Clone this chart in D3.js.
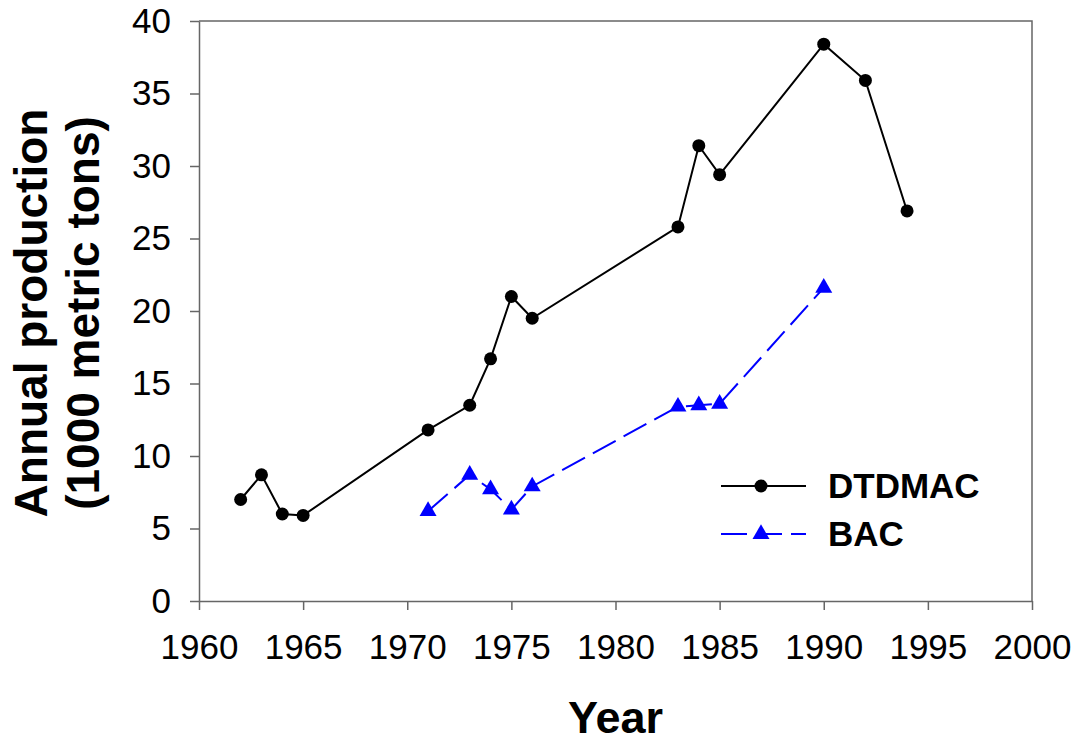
<!DOCTYPE html>
<html>
<head>
<meta charset="utf-8">
<script src="https://cdn.jsdelivr.net/npm/d3@7"></script>
<style>
  html, body { margin: 0; padding: 0; background: #fff; }
  svg { display: block; font-family: "Liberation Sans", Arial, Helvetica, sans-serif; }
</style>
</head>
<body>
<svg id="chart" width="1080" height="743"></svg>
<script>
// Annual production of two surfactants (1000 metric tons)
const dtdmacYears  = [1962, 1963, 1964, 1965, 1971, 1973, 1974, 1975, 1976, 1983, 1984, 1985, 1990, 1992, 1994];
const dtdmacValues = [7.0, 8.7, 6.0, 5.9, 11.8, 13.5, 16.7, 21.0, 19.5, 25.8, 31.4, 29.4, 38.4, 35.9, 26.9];

const bacYears  = [1971, 1973, 1974, 1975, 1976, 1983, 1984, 1985, 1990];
const bacValues = [6.2, 8.7, 7.7, 6.3, 7.9, 13.4, 13.5, 13.6, 21.6];

const xTicks = [1960, 1965, 1970, 1975, 1980, 1985, 1990, 1995, 2000];
const yTicks = [0, 5, 10, 15, 20, 25, 30, 35, 40];

const seriesNames = ["DTDMAC", "BAC"];

const svg = d3.select("#chart");
const margin = { left: 199, right: 1032, top: 21, bottom: 601 };

const x = d3.scaleLinear().domain([1960, 2000]).range([margin.left, margin.right]);
const y = d3.scaleLinear().domain([0, 40]).range([margin.bottom, margin.top]);

const axisColor = "#666";

// frame (top and right edges)
svg.append("path")
  .attr("d", `M${margin.left},${margin.top}H${margin.right}V${margin.bottom}`)
  .attr("fill", "none").attr("stroke", axisColor).attr("stroke-width", 1.5);

// x axis
const gx = svg.append("g")
  .attr("transform", `translate(0,${margin.bottom})`)
  .call(d3.axisBottom(x).tickValues(xTicks).tickFormat(d3.format("d")).tickSize(9).tickPadding(24).tickSizeOuter(0));
gx.select(".domain").attr("stroke", axisColor).attr("stroke-width", 1.5);
gx.selectAll(".tick line").attr("stroke", axisColor).attr("stroke-width", 1.5);
gx.selectAll(".tick text").attr("font-size", 35).attr("fill", "#000").attr("font-family", null);

// y axis
const gy = svg.append("g")
  .attr("transform", `translate(${margin.left},0)`)
  .call(d3.axisLeft(y).tickValues(yTicks).tickSize(9).tickPadding(19).tickSizeOuter(0));
gy.select(".domain").attr("stroke", axisColor).attr("stroke-width", 1.5);
gy.selectAll(".tick line").attr("stroke", axisColor).attr("stroke-width", 1.5);
gy.selectAll(".tick text").attr("font-size", 35).attr("fill", "#000").attr("font-family", null);

// axis titles
svg.append("text")
  .attr("x", (margin.left + margin.right) / 2).attr("y", 733)
  .attr("text-anchor", "middle").attr("font-size", 45).attr("font-weight", "bold")
  .text("Year");

const yTitle = svg.append("text")
  .attr("transform", `translate(0,${(margin.top + margin.bottom) / 2 + 2}) rotate(-90)`)
  .attr("text-anchor", "middle").attr("font-size", 46).attr("font-weight", "bold");
yTitle.append("tspan").attr("x", 0).attr("y", 47).text("Annual production");
yTitle.append("tspan").attr("x", 0).attr("y", 99).text("(1000 metric tons)");

// series
const dtdmac = dtdmacYears.map((yr, i) => ({ yr, v: dtdmacValues[i] }));
const bac = bacYears.map((yr, i) => ({ yr, v: bacValues[i] }));

const line = d3.line().x(d => x(d.yr)).y(d => y(d.v));
const triangle = d3.symbol().type(d3.symbolTriangle).size(125);

svg.append("path").datum(bac)
  .attr("d", line).attr("fill", "none").attr("stroke", "#0000ff")
  .attr("stroke-width", 2).attr("stroke-dasharray", "26,9");
svg.append("g").selectAll("path").data(bac).join("path")
  .attr("d", triangle)
  .attr("transform", d => `translate(${x(d.yr)},${y(d.v)})`)
  .attr("fill", "#0000ff");

svg.append("path").datum(dtdmac)
  .attr("d", line).attr("fill", "none").attr("stroke", "#000").attr("stroke-width", 2);
svg.append("g").selectAll("circle").data(dtdmac).join("circle")
  .attr("cx", d => x(d.yr)).attr("cy", d => y(d.v)).attr("r", 6.5).attr("fill", "#000");

// legend
const legend = svg.append("g");
const legRows = [486, 534];
legend.append("line").attr("x1", 721).attr("x2", 806).attr("y1", legRows[0]).attr("y2", legRows[0])
  .attr("stroke", "#000").attr("stroke-width", 2);
legend.append("circle").attr("cx", 761).attr("cy", legRows[0]).attr("r", 6.5).attr("fill", "#000");
legend.append("line").attr("x1", 721).attr("x2", 806).attr("y1", legRows[1]).attr("y2", legRows[1])
  .attr("stroke", "#0000ff").attr("stroke-width", 2).attr("stroke-dasharray", "26,9");
legend.append("path").attr("d", triangle).attr("transform", `translate(761,${legRows[1]})`).attr("fill", "#0000ff");
seriesNames.forEach((name, i) => {
  legend.append("text").attr("x", 828).attr("y", legRows[i] + 12)
    .attr("font-size", 35).attr("font-weight", "bold").text(name);
});
</script>
</body>
</html>
